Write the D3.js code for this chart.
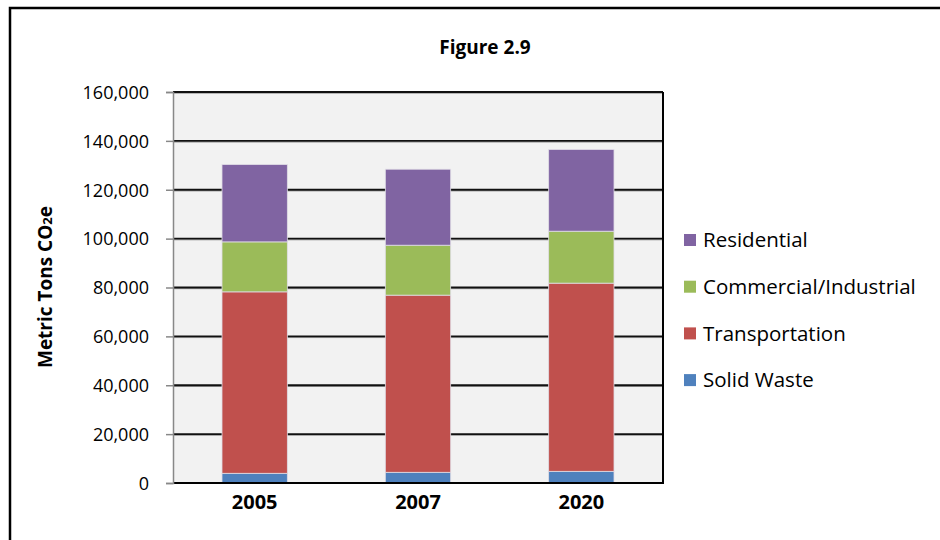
<!DOCTYPE html>
<html>
<head>
<meta charset="utf-8">
<script src="https://cdn.jsdelivr.net/npm/d3@7"></script>
<style>
  body { margin: 0; background: #fff; }
  text { font-family: "Open Sans", Lato, sans-serif; fill: #000; }
</style>
</head>
<body>
<div id="chart"></div>
<script>
const years = ['2005', '2007', '2020'];
const seriesNames = ['Solid Waste', 'Transportation', 'Commercial/Industrial', 'Residential'];
const solidWaste = [3970, 4380, 4780];
const transportation = [74250, 72490, 77000];
const commercial = [20450, 20440, 21260];
const residential = [31630, 31090, 33410];
const yTicks = [0, 20000, 40000, 60000, 80000, 100000, 120000, 140000, 160000];
const colors = ['#4F81BD', '#C0504D', '#9BBB59', '#8064A2'];

const width = 940;
const height = 540;
const margin = { top: 92, left: 173, right: 277, bottom: 57 };

const svg = d3.select('#chart')
    .append('svg')
    .attr('width', width)
    .attr('height', height);

// outer frame
svg.append('rect')
    .attr('x', 10).attr('y', 8)
    .attr('width', 960).attr('height', 560)
    .attr('fill', 'none')
    .attr('stroke', '#000')
    .attr('stroke-width', 2.5);

const chartWidth = width - margin.left - margin.right;
const chartHeight = height - margin.top - margin.bottom;

const chart = svg.append('g')
    .attr('transform', `translate(${margin.left},${margin.top})`);

const rows = years.map((y, i) => ({
    year: y,
    'Solid Waste': solidWaste[i],
    'Transportation': transportation[i],
    'Commercial/Industrial': commercial[i],
    'Residential': residential[i]
}));
const stacked = d3.stack().keys(seriesNames)(rows);

const xScale = d3.scaleBand()
    .domain(years)
    .range([0, chartWidth]);
const yScale = d3.scaleLinear()
    .domain([0, 160000])
    .range([chartHeight, 0]);
const barWidth = xScale.bandwidth() * 0.4;

chart.append('rect')
    .attr('width', chartWidth)
    .attr('height', chartHeight)
    .attr('fill', '#F2F2F2');

// gridlines
chart.append('g')
    .selectAll('line')
    .data(yTicks.slice(1))
    .enter()
    .append('line')
    .attr('x1', 0).attr('x2', chartWidth)
    .attr('y1', d => yScale(d) + 1.2).attr('y2', d => yScale(d) + 1.2)
    .attr('stroke', '#999')
    .attr('stroke-width', 1);
chart.append('g')
    .selectAll('line')
    .data(yTicks.slice(1))
    .enter()
    .append('line')
    .attr('x1', 0).attr('x2', chartWidth)
    .attr('y1', d => yScale(d)).attr('y2', d => yScale(d))
    .attr('stroke', '#111')
    .attr('stroke-width', 1.8);

// bars
chart.selectAll('.series')
    .data(stacked)
    .enter()
    .append('g')
    .attr('fill', (d, i) => colors[i])
    .selectAll('rect')
    .data(d => d)
    .enter()
    .append('rect')
    .attr('x', d => xScale(d.data.year) + (xScale.bandwidth() - barWidth) / 2)
    .attr('y', d => yScale(d[1]))
    .attr('height', d => yScale(d[0]) - yScale(d[1]))
    .attr('width', barWidth)
    .attr('stroke', '#e0dde6')
    .attr('stroke-width', 0.8);

// right and bottom border
chart.append('line')
    .attr('x1', chartWidth).attr('x2', chartWidth)
    .attr('y1', 0).attr('y2', chartHeight + 1)
    .attr('stroke', '#000').attr('stroke-width', 2);
chart.append('line')
    .attr('x1', 0).attr('x2', chartWidth + 1)
    .attr('y1', chartHeight).attr('y2', chartHeight)
    .attr('stroke', '#000').attr('stroke-width', 2);

// y axis
const yAxis = d3.axisLeft(yScale)
    .tickValues(yTicks)
    .tickSize(7)
    .tickPadding(17)
    .tickFormat(d3.format(','));
const yG = chart.append('g').call(yAxis);
yG.select('.domain').attr('stroke', '#888').attr('stroke-width', 1.5);
yG.selectAll('.tick line').attr('stroke', '#888').attr('stroke-width', 1.5);
yG.selectAll('.tick text')
    .style('font-size', '18px')
    .attr('dy', '0.35em');

// x axis labels
const xAxis = d3.axisBottom(xScale).tickSize(0).tickPadding(12);
const xG = chart.append('g')
    .attr('transform', `translate(0,${chartHeight})`)
    .call(xAxis);
xG.select('.domain').remove();
xG.selectAll('.tick text')
    .style('font-size', '20px')
    .style('font-weight', 'bold');

// title
svg.append('text')
    .attr('x', 485)
    .attr('y', 54)
    .attr('text-anchor', 'middle')
    .style('font-size', '19px')
    .style('font-weight', 'bold')
    .text('Figure 2.9');

// y axis title
const yt = svg.append('text')
    .attr('transform', 'translate(52,287) rotate(-90)')
    .attr('text-anchor', 'middle')
    .style('font-size', '19px')
    .style('font-weight', 'bold');
yt.append('tspan').text('Metric Tons CO');
yt.append('tspan').style('font-size', '13px').text('2');
yt.append('tspan').text('e');

// legend
const legendNames = seriesNames.slice().reverse();
const legendColors = colors.slice().reverse();
const legend = svg.append('g')
    .selectAll('g')
    .data(legendNames)
    .enter()
    .append('g')
    .attr('transform', (d, i) => `translate(684,${240 + i * 46.7})`);
legend.append('rect')
    .attr('x', 0).attr('y', -6)
    .attr('width', 12).attr('height', 12)
    .attr('fill', (d, i) => legendColors[i]);
legend.append('text')
    .attr('x', 19)
    .attr('y', 0)
    .attr('dy', '0.35em')
    .style('font-size', '20.5px')
    .text(d => d);
</script>
</body>
</html>
